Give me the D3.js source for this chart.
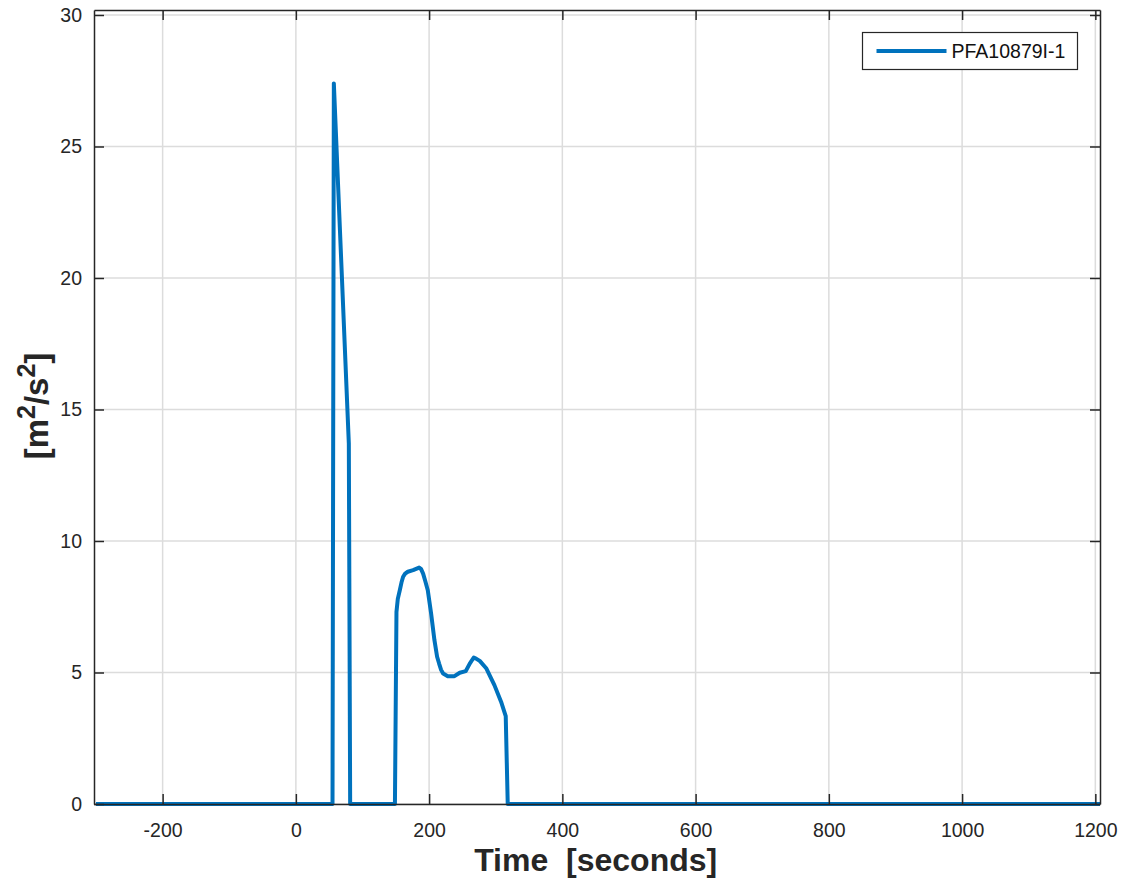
<!DOCTYPE html>
<html>
<head>
<meta charset="utf-8">
<script src="https://cdn.jsdelivr.net/npm/d3@7"></script>
<style>
  body { margin: 0; background: #fff; }
  text { font-family: Arial, "Liberation Sans", Helvetica, sans-serif; }
</style>
</head>
<body>
<svg id="chart" width="1127" height="884"></svg>
<script>
// values
const timeSec = [-300, 55, 57, 79.5, 81.5, 148.7, 151, 153, 156, 158.5, 161, 164, 168, 176, 185, 188, 191, 194, 198, 203, 208, 212, 215, 218, 221, 228, 238, 246, 255, 261, 267, 271, 276, 286, 298, 308, 315, 318, 1207];
const energy  = [0, 0, 27.4, 13.7, 0, 0, 7.3, 7.8, 8.13, 8.42, 8.64, 8.76, 8.83, 8.89, 8.99, 8.93, 8.76, 8.5, 8.13, 7.24, 6.23, 5.6, 5.34, 5.1, 4.96, 4.86, 4.86, 4.99, 5.05, 5.34, 5.57, 5.52, 5.44, 5.15, 4.52, 3.89, 3.34, 0, 0];
const xTicks = [-200, 0, 200, 400, 600, 800, 1000, 1200];
const yTicks = [0, 5, 10, 15, 20, 25, 30];
const seriesName = "PFA10879I-1";

const svg = d3.select("#chart");
const margin = { top: 10, right: 27, bottom: 80, left: 94 };
const width = +svg.attr("width");
const height = +svg.attr("height");
const innerWidth = width - margin.left - margin.right;
const innerHeight = height - margin.top - margin.bottom;

const g = svg.append("g").attr("transform", `translate(${margin.left},${margin.top})`);

const xScale = d3.scaleLinear().domain([-303, 1207]).range([0, innerWidth]);
const yScale = d3.scaleLinear().domain([0, 30.19]).range([innerHeight, 0]);

const axisColor = "#262626";
const plain = d => String(d).replace("\u2212", "-");

// grid
g.append("g").selectAll("line").data(xTicks).enter().append("line")
  .attr("x1", d => xScale(d)).attr("x2", d => xScale(d))
  .attr("y1", 0).attr("y2", innerHeight)
  .attr("stroke", "#dcdcdc").attr("stroke-width", 1.5);
g.append("g").selectAll("line").data(yTicks).enter().append("line")
  .attr("y1", d => yScale(d)).attr("y2", d => yScale(d))
  .attr("x1", 0).attr("x2", innerWidth)
  .attr("stroke", "#dcdcdc").attr("stroke-width", 1.5);

// data line
const points = timeSec.map((t, i) => [t, energy[i]]);
g.append("path")
  .datum(points)
  .attr("fill", "none")
  .attr("stroke", "#0072BD")
  .attr("stroke-width", 4)
  .attr("stroke-linejoin", "round")
  .attr("d", d3.line().x(d => xScale(d[0])).y(d => yScale(d[1])));

// axes, ticks pointing inward like matlab
function styleAxis(sel) {
  sel.selectAll("path.domain").attr("stroke", axisColor).attr("stroke-width", 1.5);
  sel.selectAll(".tick line").attr("stroke", axisColor).attr("stroke-width", 1.5);
  sel.selectAll(".tick text").attr("fill", axisColor).style("font-size", "19.5px")
    .style("font-family", "Arial, 'Liberation Sans', sans-serif");
}

g.append("g")
  .attr("transform", `translate(0,${innerHeight})`)
  .call(d3.axisBottom(xScale).tickValues(xTicks).tickFormat(plain).tickSizeInner(-10).tickSizeOuter(0).tickPadding(19))
  .call(styleAxis);

g.append("g")
  .call(d3.axisTop(xScale).tickValues(xTicks).tickSizeInner(-10).tickSizeOuter(0).tickFormat(""))
  .call(styleAxis);

g.append("g")
  .call(d3.axisLeft(yScale).tickValues(yTicks).tickFormat(plain).tickSizeInner(-10).tickSizeOuter(0).tickPadding(12))
  .call(styleAxis);

g.append("g")
  .attr("transform", `translate(${innerWidth},0)`)
  .call(d3.axisRight(yScale).tickValues(yTicks).tickSizeInner(-10).tickSizeOuter(0).tickFormat(""))
  .call(styleAxis);

// axis labels
svg.append("text")
  .attr("x", margin.left + xScale(450))
  .attr("y", 871)
  .attr("text-anchor", "middle")
  .attr("fill", axisColor)
  .style("font-size", "32px")
  .style("font-weight", "bold")
  .attr("xml:space", "preserve")
  .text("Time  [seconds]");

const yl = svg.append("text")
  .attr("transform", "translate(48,406) rotate(-90)")
  .attr("text-anchor", "middle")
  .attr("fill", axisColor)
  .style("font-size", "33px")
  .style("font-weight", "bold");
yl.append("tspan").text("[m");
yl.append("tspan").attr("dy", -13).style("font-size", "25px").text("2");
yl.append("tspan").attr("dy", 13).text("/s");
yl.append("tspan").attr("dy", -13).style("font-size", "25px").text("2");
yl.append("tspan").attr("dy", 13).text("]");

// legend
const legend = svg.append("g").attr("transform", "translate(862.5,32.5)");
legend.append("rect")
  .attr("width", 215).attr("height", 37)
  .attr("fill", "#fff").attr("stroke", axisColor).attr("stroke-width", 1.2);
legend.append("line")
  .attr("x1", 14).attr("x2", 84).attr("y1", 18.5).attr("y2", 18.5)
  .attr("stroke", "#0072BD").attr("stroke-width", 4);
legend.append("text")
  .attr("x", 89).attr("y", 25.5)
  .attr("fill", "#111")
  .style("font-size", "19.5px")
  .text(seriesName);
</script>
</body>
</html>
